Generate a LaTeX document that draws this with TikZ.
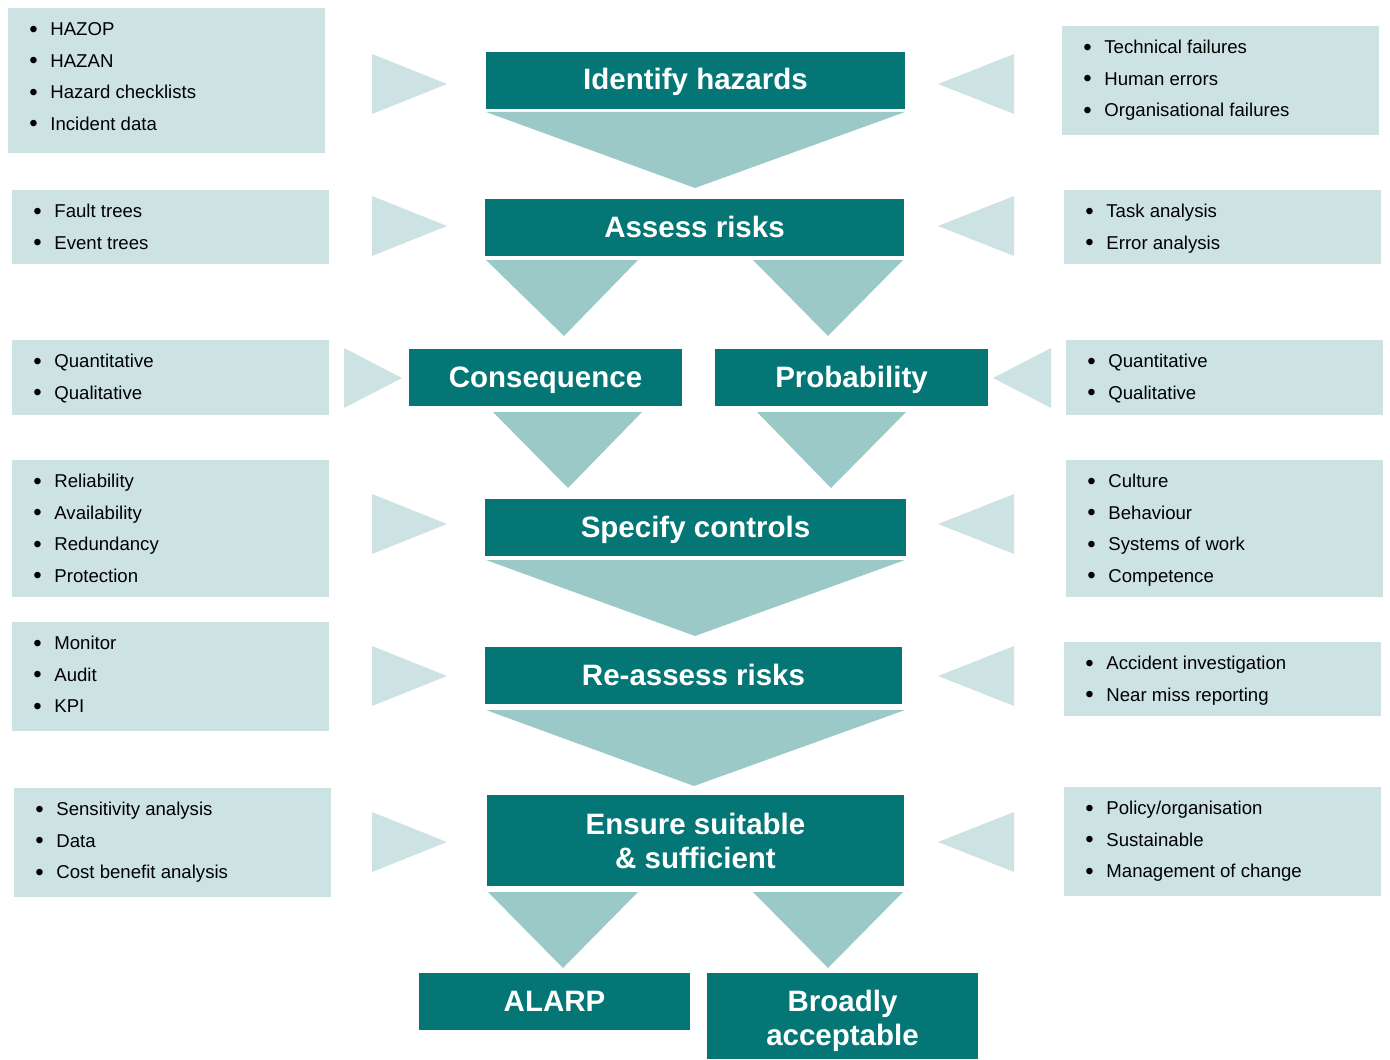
\documentclass[tikz,border=0pt]{standalone}
\usepackage{fontspec}
\setmainfont{Liberation Sans}
\usetikzlibrary{calc}

\definecolor{stagecol}{RGB}{3,118,117}
\definecolor{flowcol}{RGB}{154,201,200}
\definecolor{infocol}{RGB}{205,227,227}

\newcommand{\itembullet}{\makebox[10.5pt][l]{\fontsize{12}{12}\selectfont\raisebox{-0.9pt}{\textbullet}}}

\tikzset{
	stage/.style={fill=stagecol, text=white, align=center, inner sep=0pt,
		font=\fontsize{14.75}{17}\selectfont\bfseries, minimum height=28.5pt},
	oneline/.style={text height=10.6pt, text depth=1pt},
	infobox/.style={fill=infocol, inner sep=0pt, minimum width=158.5pt, anchor=north west},
	item/.style={anchor=west, inner sep=0pt, text height=6.6pt, text depth=0pt,
		font=\fontsize{9.3}{11}\selectfont},
	flow/.style={fill=flowcol},
	feed/.style={fill=infocol}
}

\begin{document}
\begin{tikzpicture}[x=0.5pt, y=-0.5pt]
	\useasboundingbox (0,0) rectangle (1390,1059);

	% main stages
	\node [stage, oneline, text depth=1.4pt, minimum width=209.5pt] at (695.5,80.5) (ident) {Identify hazards};
	\node [stage, oneline, minimum width=209.5pt] at (694.5,227.5) (assess) {Assess risks};
	\node [stage, oneline, minimum width=136.5pt] at (545.5,377.5) (conseq) {Consequence};
	\node [stage, oneline, minimum width=136.5pt] at (851.5,377.5) (prob) {Probability};
	\node [stage, oneline, minimum width=210.5pt] at (695.5,527.5) (specify) {Specify controls};
	\node [stage, oneline, minimum width=208.5pt] at (693.5,675.5) (reassess) {Re-assess risks};
	\node [stage, minimum width=208.5pt, minimum height=45.5pt] at (695.5,840.5) (ensure) {Ensure suitable\\\& sufficient};
	\node [stage, oneline, minimum width=135.5pt] at (554.5,1001.5) (alarp) {ALARP};
	\node [stage, minimum width=135.5pt, minimum height=43pt] at (842.5,1016) (broad) {\rule{0pt}{15.8pt}Broadly\\acceptable};

	% downward arrows between the stages
	\foreach \xa/\xb/\ya/\xc/\yb in {486/905/112/695/188, 486/638/260/564/336, 753/903/260/828/336,
			493/642/412/568/488, 757/906/412/831/488, 486/905/560/695/636,
			486/905/710/694/786, 488/638/892/563/968, 753/903/892/828/968}
		\fill [flow] (\xa,\ya) -- (\xb,\ya) -- (\xc,\yb) -- cycle;

	% arrows feeding in from the side lists
	\foreach \yc/\la/\lb/\ra/\rb in {84/372/447/1014/938, 226/372/447/1014/938, 378/344/402/1051/993,
			524/372/447/1014/938, 676/372/447/1014/938, 842/372/447/1014/938}
	{
		\fill [feed] (\la,\yc-30) -- (\lb,\yc) -- (\la,\yc+30) -- cycle;
		\fill [feed] (\ra,\yc-30) -- (\rb,\yc) -- (\ra,\yc+30) -- cycle;
	}

	% side lists
	\foreach \name/\bx/\by/\bh/\items in {
			lhaz/8/8/145/{HAZOP,HAZAN,Hazard checklists,Incident data},
			ltree/12/190/74/{Fault trees,Event trees},
			lcons/12/340/75/{Quantitative,Qualitative},
			lrel/12/460/137/{Reliability,Availability,Redundancy,Protection},
			lmon/12/622/109/{Monitor,Audit,KPI},
			lsens/14/788/109/{Sensitivity analysis,Data,Cost benefit analysis},
			rfail/1062/26/109/{Technical failures,Human errors,Organisational failures},
			rtask/1064/190/74/{Task analysis,Error analysis},
			rprob/1066/340/75/{Quantitative,Qualitative},
			rcult/1066/460/137/{Culture,Behaviour,Systems of work,Competence},
			racc/1064/642/74/{Accident investigation,Near miss reporting},
			rpol/1064/787/109/{Policy/organisation,Sustainable,Management of change}}
	{
		\node [infobox, minimum height=\bh*0.5pt] at (\bx,\by) (\name) {};
		\foreach \txt [count=\i] in \items
			\node [item] at ($(\name.north west)+(21,{21+31.5*(\i-1)})$) (\name-\i)
				{\itembullet\txt};
	}
\end{tikzpicture}
\end{document}
